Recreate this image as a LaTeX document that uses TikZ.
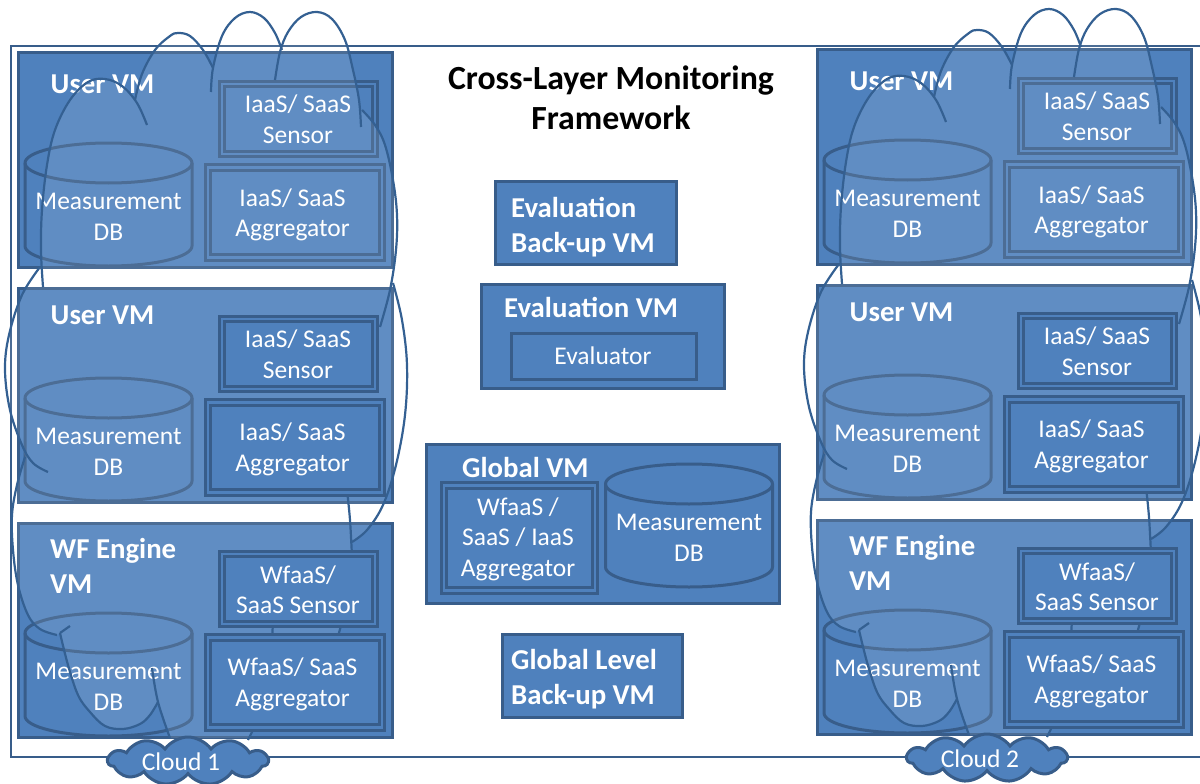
\documentclass[tikz,border=0pt]{standalone}
\usepackage{fontspec}
\setmainfont{Carlito}
\usepackage{xcolor}
\definecolor{vmblue}{RGB}{79,129,189}
\definecolor{vmline}{RGB}{56,93,138}
\definecolor{sketchline}{RGB}{52,96,146}
\usetikzlibrary{shapes.symbols}
\newcommand{\plainsize}{\fontsize{25.5}{30.5}\selectfont}
\newcommand{\boldsize}{\fontsize{28.8}{35}\selectfont\bfseries}
\tikzset{
    common/.style={draw=vmline, fill=vmblue, line width=3pt, outer sep=0pt},
    vmbox/.style={common, anchor=north west, minimum width=374pt, minimum height=214pt},
    centerbox/.style={common, anchor=north west},
    title/.style={text=white, anchor=west, align=left, font=\boldsize, inner sep=0pt},
    boxtext/.style={text=white, align=center, font=\plainsize, inner sep=0pt},
    sensor/.style={common, double=vmblue, double distance=2.5pt, minimum width=153pt, minimum height=70pt},
    aggregator/.style={sensor, minimum width=174pt, minimum height=90pt},
    cloudnode/.style={common, cloud, cloud puffs=11, cloud puff arc=110, aspect=3.6, minimum width=160pt, minimum height=48pt, inner sep=0pt},
    sketch/.style={draw=sketchline, line width=2.2pt},
    smoothed/.style={smooth, tension=0.6}
}
% drum with its text, #2 and #3 give the middle of the top ellipse
\newcommand{\dbdrum}[3]{
  \draw[common] (#2-83.5,#3) -- (#2-83.5,#3+83) arc[start angle=180, end angle=360, x radius=83.5pt, y radius=20pt]
      -- (#2+83.5,#3) arc[start angle=0, end angle=180, x radius=83.5pt, y radius=20pt] -- cycle;
  \draw[common, fill=none] (#2-83.5,#3) arc[start angle=180, end angle=360, x radius=83.5pt, y radius=20pt];
  \node[boxtext] (#1) at (#2,#3+54) {Measurement\\DB};
}
% one column of VMs with its big sketched cloud
\newcommand{\vmstack}[2]{
  \node[vmbox] (#1user1) at (18,53) {};
  \node[vmbox] (#1user2) at (18,288) {};
  \node[vmbox] (#1engine) at (18,523) {};
  \node[title] (#1name1) at (50.5,84) {User VM};
  \node[title] (#1name2) at (50.5,315) {User VM};
  \node[title, anchor=north west] (#1name3) at (50,538) {WF Engine\\VM};
  \node[sensor] (#1sensor1) at (298.5,119) {};
  \node[boxtext] (#1sensortext1) at (298,119) {IaaS/ SaaS\\Sensor};
  \node[aggregator] (#1aggr1) at (295,212.5) {};
  \node[boxtext] (#1aggrtext1) at (292.5,215) {IaaS/ SaaS\\Aggregator};
  \dbdrum{#1db1}{108.5}{163}
  \dbdrum{#1db2}{108.5}{398}
  \dbdrum{#1db3}{108.5}{633}
  % light inside of the sketched cloud
  \fill[white, opacity=0.1] plot[smoothed] coordinates {(42,268) (42,210) (47,165) (55,130) (70,100) (88,82) (105,79) (122,86) (135,100)}
      -- plot[smoothed] coordinates {(135,100) (142,74) (155,50) (170,36) (178,33) (190,36) (203,50) (213,68)}
      -- plot[smoothed] coordinates {(213,68) (222,36) (235,18) (250,12) (264,18) (275,33) (282,50)}
      -- plot[smoothed] coordinates {(282,50) (288,32) (301,17) (317,12) (332,19) (345,40) (353,70) (361,110)}
      -- plot[smoothed] coordinates {(362,110) (375,125) (385,145) (393,180) (397,215) (396,250) (393,283)}
      -- plot[smoothed] coordinates {(393,283) (402,320) (407,365) (405,415) (396,465) (383,505) (367,530) (352,542)}
      -- (342,622) -- (337,638) -- (256,724) -- (248,738) -- (170,738) -- (158,702)
      -- plot[smoothed] coordinates {(158,702) (150,715) (140,724) (123,729) (105,726) (90,712) (78,695) (68,665) (60,633)}
      -- plot[smoothed] coordinates {(57,635) (40,629) (28,615) (18,585) (13,550) (12,515) (17,485) (25,457)}
      -- plot[smoothed] coordinates {(22,445) (10,410) (5,370) (9,335) (22,295) (40,267)} -- cycle;
  % outline of the sketched cloud
  \draw[sketch] plot[smoothed] coordinates {(147,125) (137,103) (122,86) (105,79) (88,82) (70,100) (55,130) (47,165) (42,210) (41,250) (43,287)};
  \draw[sketch] plot[smoothed] coordinates {(135,100) (142,74) (155,50) (170,36) (178,33) (190,36) (203,50) (213,68)};
  \draw[sketch] plot[smoothed] coordinates {(211,92) (213,68) (222,36) (235,18) (250,12) (264,18) (275,33) (282,50)};
  \draw[sketch] plot[smoothed] coordinates {(275,80) (280,52) (288,32) (301,17) (317,12) (332,19) (345,40) (353,70) (359,100) (361,127)};
  \draw[sketch] plot[smoothed] coordinates {(362,110) (375,125) (385,145) (393,180) (397,215) (396,250) (390,290) (380,327)};
  \draw[sketch] plot[smoothed] coordinates {(393,283) (402,320) (407,365) (405,415) (396,465) (383,505) (367,530) (352,542)};
  \draw[sketch] plot[smoothed] coordinates {(347,490) (350,520) (352,557)};
  \draw[sketch] (342,622) -- (337,640);
  \draw[sketch] (273,622) -- (272,640);
  \draw[sketch] (256,724) -- (248,740);
  \draw[sketch] plot[smoothed] coordinates {(170,738) (158,702) (152,668)};
  \draw[sketch] plot[smoothed] coordinates {(158,702) (150,715) (140,724) (123,729) (105,726) (90,712) (78,695) (68,665) (60,633)};
  \draw[sketch] (60,633) -- (70,626);
  \draw[sketch] plot[smoothed] coordinates {(57,635) (40,629) (28,615) (18,585) (13,550) (12,515) (17,485) (25,457)};
  \draw[sketch] plot[smoothed] coordinates {(40,267) (22,295) (9,335) (5,370) (10,410) (22,445) (33,463) (48,472)};
  % these stay in front of the sketch
  \node[sensor] (#1sensor2) at (298.5,354) {};
  \node[boxtext] (#1sensortext2) at (298,354) {IaaS/ SaaS\\Sensor};
  \node[aggregator] (#1aggr2) at (295,447.5) {};
  \node[boxtext] (#1aggrtext2) at (292.5,449.5) {IaaS/ SaaS\\Aggregator};
  \node[sensor] (#1sensor3) at (298.5,589) {};
  \node[boxtext] (#1sensortext3) at (298,589.5) {WfaaS/\\SaaS Sensor};
  \node[aggregator] (#1aggr3) at (295,682.5) {};
  \node[boxtext] (#1aggrtext3) at (292.5,684.5) {WfaaS/ SaaS\\Aggregator};
  \node[cloudnode] (#1cloud) at (188,761) {};
  \node[boxtext] (#1cloudtext) at (181,762) {#2};
}
\begin{document}
\begin{tikzpicture}[x=1pt,y=-1pt]
  \useasboundingbox (0,0) rectangle (1200,784);
  \node[draw=vmline, line width=2.5pt, outer sep=0pt, anchor=north west, minimum width=1192pt, minimum height=711pt] (frame) at (11,46) {};

  \begin{scope}
    \vmstack{l}{Cloud 1}
  \end{scope}
  \begin{scope}[shift={(799,-3)}]
    \vmstack{r}{Cloud 2}
  \end{scope}

  \node[text=black, font=\fontsize{33.8}{40}\selectfont\bfseries, align=center] (heading) at (611,98) {Cross-Layer Monitoring\\Framework};

  \node[centerbox, minimum width=181pt, minimum height=83pt] (evalbackup) at (495,181) {};
  \node[title] (evalbackuptext) at (511,227) {Evaluation\\Back-up VM};
  \node[centerbox, minimum width=243pt, minimum height=104pt] (evalvm) at (481,284) {};
  \node[title] (evalvmtext) at (504,307) {Evaluation VM};
  \node[centerbox, minimum width=185pt, minimum height=46pt] (evaluator) at (511,333) {};
  \node[boxtext] (evaluatortext) at (603,356) {Evaluator};

  \node[centerbox, minimum width=353pt, minimum height=159pt] (globalvm) at (426,444) {};
  \node[title] (globalvmtext) at (462,467) {Global VM};
  \node[sensor, minimum width=151pt, minimum height=105pt] (globalaggr) at (519.5,538) {};
  \node[boxtext] (globalaggrtext) at (518,539) {WfaaS /\\SaaS / IaaS\\Aggregator};
  \dbdrum{globaldb}{689}{484}

  \node[centerbox, minimum width=180pt, minimum height=83pt] (globalbackup) at (502,634) {};
  \node[title] (globalbackuptext) at (511,679) {Global Level\\Back-up VM};
\end{tikzpicture}
\end{document}
